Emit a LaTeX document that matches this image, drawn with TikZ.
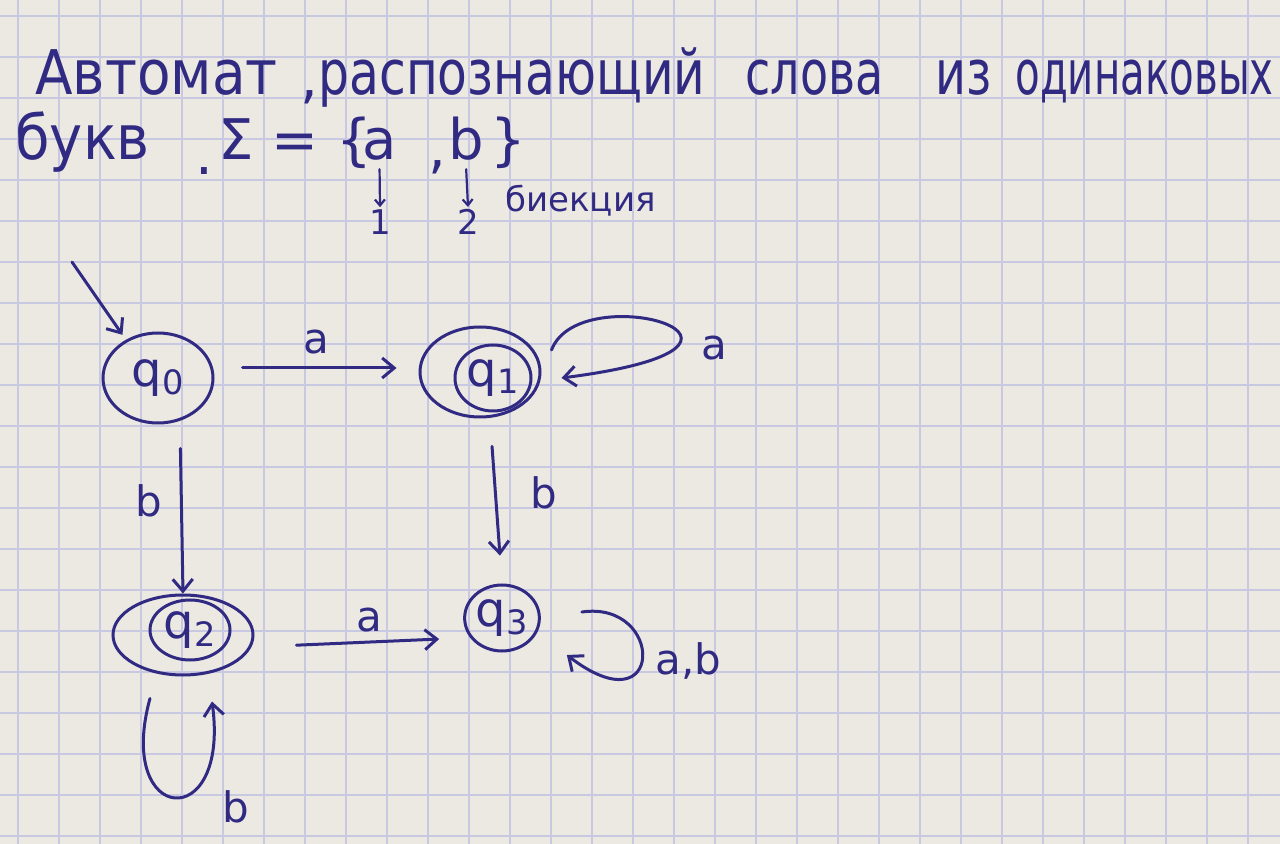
\documentclass[tikz,border=0pt]{standalone}
\usepackage{fontspec}
\setmainfont{DejaVu Sans}
\usetikzlibrary{arrows.meta,shapes.geometric}
\definecolor{ink}{RGB}{48,42,130}
\definecolor{paper}{RGB}{236,233,226}
\definecolor{gridc}{RGB}{200,200,226}
\begin{document}
\begin{tikzpicture}[x=0.5pt,y=-0.5pt,
  st/.style={ellipse, draw=ink, line width=1.5pt, inner sep=0pt, text=ink, font=\fontsize{24}{26}\selectfont},
  lab/.style={text=ink, font=\fontsize{21}{24}\selectfont, inner sep=1pt},
  ttl/.style={text=ink, font=\fontsize{28}{30}\selectfont, anchor=base west, inner sep=0pt},
  small/.style={text=ink, font=\fontsize{17}{19}\selectfont, anchor=base west, inner sep=0pt},
  tr/.style={draw=ink, line width=1.5pt, line cap=round, -{Straight Barb[length=6pt,width=10pt]}},
  thin/.style={draw=ink, line width=1.1pt, line cap=round, -{Straight Barb[length=3pt,width=5pt]}},
]
\useasboundingbox (0,0) rectangle (1280,844);
\begin{scope}
\clip (0,0) rectangle (1280,844);
\fill[paper] (0,0) rectangle (1280,844);
\foreach \i in {0,...,31} \draw[gridc, line width=0.6pt] (\i*41+18,0) -- (\i*41+18,844);
\foreach \j in {0,...,20} \draw[gridc, line width=0.6pt] (0,\j*41+16) -- (1280,\j*41+16);
\end{scope}

% title
\node[ttl] (w1) at (35,95) {\scalebox{0.98}[1.1]{Автомат}};
\node[ttl] (c1) at (300,98) {,};
\node[ttl] (w2) at (318,95) {\scalebox{0.87}[1.1]{распознающий}};
\node[ttl] (w3) at (745,95) {\scalebox{0.82}[1.1]{слова}};
\node[ttl] (w4) at (935,95) {\scalebox{0.85}[1.1]{из}};
\node[ttl] (w5) at (1015,95) {\scalebox{0.72}[1.1]{одинаковых}};
\node[ttl] (w6) at (15,160) {\scalebox{1}[1.1]{букв}};
\node[ttl] (p1) at (195,175) {.};
\node[ttl] (sig) at (218,160) {Σ = \{};
\node[ttl] (la) at (362,160) {a};
\node[ttl] (c2) at (428,168) {,};
\node[ttl] (lb) at (448,160) {b};
\node[ttl] (rb) at (490,160) {\}};
\node[text=ink, font=\fontsize{17}{19}\selectfont, inner sep=1pt] (one) at (380,222) {1};
\node[text=ink, font=\fontsize{17}{19}\selectfont, inner sep=1pt] (two) at (468,222) {2};
\node[small] (bij) at (505,212) {биекция};
\draw[thin] ([yshift=-4pt]la.south) -- (one.north);
\draw[thin] ([yshift=-4pt]lb.south) -- (two.north);

% states
\node[st, minimum width=55pt, minimum height=45pt] (q0) at (158,378) {q\textsubscript{0}};
\node[st, minimum width=60pt, minimum height=45pt] (q1o) at (480,372) {};
\node[st, minimum width=38pt, minimum height=33pt] (q1) at (493,378) {q\textsubscript{1}};
\node[st, minimum width=70pt, minimum height=40pt] (q2o) at (183,635) {};
\node[st, minimum width=40pt, minimum height=30pt] (q2) at (190,630) {q\textsubscript{2}};
\node[st, minimum width=37pt, minimum height=33pt] (q3) at (502,618) {q\textsubscript{3}};

% initial
\coordinate (init) at (72,262);
\draw[tr, shorten >=3pt] (init) -- (q0.130);

% transitions
\draw[tr, shorten <=14pt, shorten >=11pt] ([yshift=5pt]q0.east) -- node[lab, above=5pt]{a} ([yshift=2pt]q1o.west);
\draw[tr, shorten <=12pt] ([xshift=11pt]q0.south) -- node[lab, left=8pt, pos=0.45]{b} (q2o.north);
\draw[tr, shorten <=14pt, shorten >=14pt] ([xshift=5pt]q1o.south) -- node[lab, right=16pt, pos=0.45]{b} (q3.north);
\draw[tr, shorten <=21pt, shorten >=12pt] ([yshift=-6pt]q2o.east) -- node[lab, above=3pt, pos=0.55]{a} ([yshift=-10pt]q3.west);

% loops
\draw[tr] ([shift={(10,-22)}]q1o.east) .. controls (580,275) and (820,345) .. node[lab, pos=0.6, anchor=west, xshift=10pt, yshift=-8pt]{a} ([shift={(20,6)}]q1o.east);
\draw[tr] ([shift={(41,-6)}]q3.east) .. controls (665,600) and (665,730) .. node[lab, pos=0.5, anchor=west, xshift=5pt, yshift=-2pt]{a,b} ([shift={(26,37)}]q3.east);
\draw[tr] ([shift={(-33,22)}]q2o.south) .. controls (115,825) and (230,835) .. node[lab, pos=0.75, anchor=west, xshift=7pt, yshift=-16pt]{b} ([shift={(29,25)}]q2o.south);
\end{tikzpicture}
\end{document}
